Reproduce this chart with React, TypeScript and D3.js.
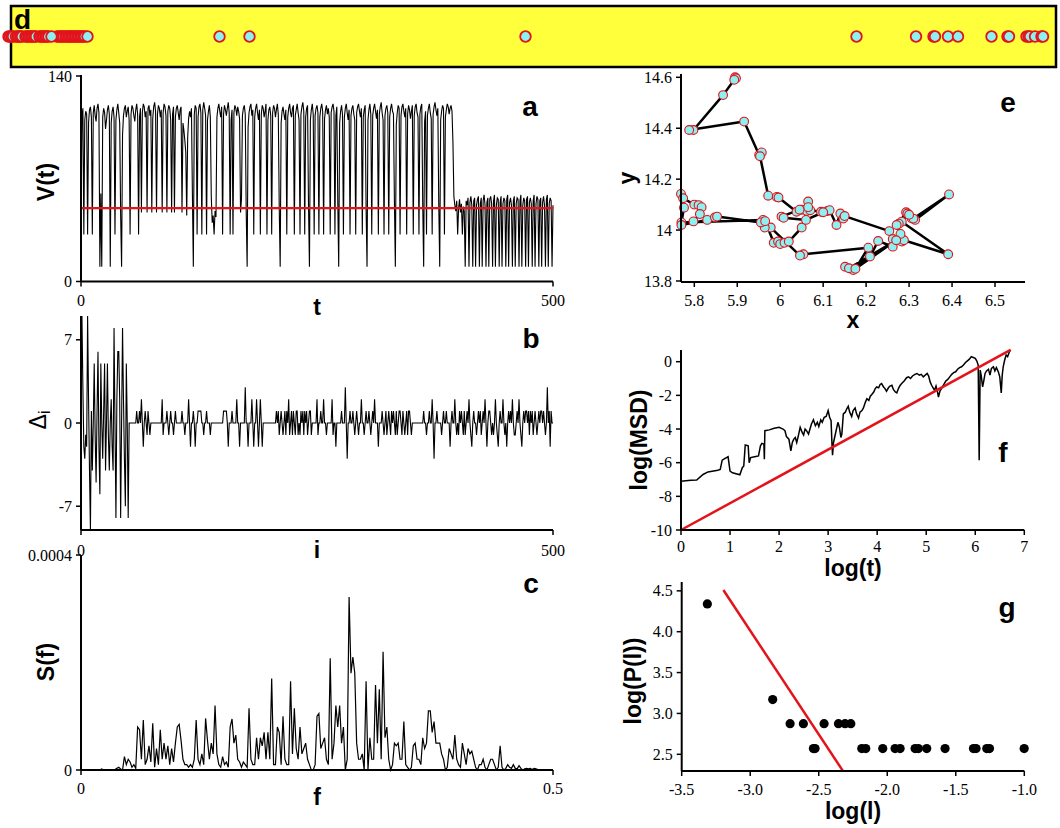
import React from 'react';
import * as d3 from 'd3';

// strip (panel d): positions of the marks along the bar
const stripPos = [8.5, 10, 11.5, 13, 16, 17.5, 19, 20.5, 22, 25.5, 27, 28.5, 30, 31.5, 33, 34.5, 36, 39.5, 41, 42.5, 44, 45.5, 47, 48.5,
  57, 58.5, 60.5, 62, 63.5, 65.5, 67, 68.5, 70, 71.5, 73, 74.5, 76, 77.5, 79, 80.5, 82, 83.5, 85, 51.5, 87.5,
  219.5, 249.5, 525.5, 856.5, 916, 933.5, 935, 948, 958, 991.5, 1007.5, 1009, 1026.5, 1028.5, 1030, 1035, 1041.5, 1043];

// panel a: V(t), t = 0..500
const vSeries = [
  35, 112, 118, 32, 110, 116, 114, 32, 108, 117,
  119, 112, 32, 115, 120, 113, 109, 118, 121, 115,
  10, 60, 10, 112, 118, 115, 104, 110, 117, 120,
  114, 10, 108, 116, 119, 112, 32, 110, 117, 121,
  115, 108, 45, 10, 100, 113, 118, 120, 112, 116,
  119, 110, 32, 114, 120, 118, 113, 109, 117, 121,
  114, 32, 112, 118, 47, 115, 121, 119, 112, 116,
  47, 118, 120, 113, 117, 47, 111, 119, 122, 116,
  47, 114, 120, 118, 112, 117, 47, 115, 121, 119,
  113, 47, 116, 120, 118, 110, 47, 114, 119, 47,
  112, 118, 120, 115, 110, 117, 119, 47, 108, 103,
  96, 88, 45, 98, 111, 116, 112, 118, 60, 10,
  114, 120, 118, 32, 112, 119, 121, 115, 32, 117,
  122, 118, 113, 32, 110, 116, 120, 112, 58, 40,
  45, 32, 48, 44, 112, 118, 121, 116, 112, 119,
  32, 114, 120, 117, 113, 118, 122, 115, 32, 110,
  117, 32, 115, 120, 118, 113, 119, 116, 111, 47,
  56, 113, 118, 120, 114, 48, 10, 105, 115, 119,
  121, 113, 117, 32, 112, 118, 121, 115, 110, 117,
  32, 114, 120, 118, 112, 116, 121, 32, 110, 117,
  119, 113, 32, 115, 120, 118, 112, 117, 121, 114,
  50, 10, 108, 116, 119, 114, 110, 117, 32, 112,
  118, 121, 115, 112, 118, 120, 32, 113, 117, 121,
  115, 110, 32, 114, 119, 122, 116, 32, 112, 118,
  120, 52, 10, 110, 117, 121, 114, 32, 113, 118,
  120, 115, 32, 112, 118, 121, 116, 32, 111, 117,
  120, 114, 118, 112, 32, 115, 119, 121, 116, 32,
  113, 119, 55, 10, 108, 116, 120, 114, 32, 112,
  118, 121, 115, 110, 117, 32, 113, 118, 120, 114,
  110, 32, 115, 119, 121, 116, 112, 118, 32, 112,
  117, 120, 50, 10, 110, 117, 121, 114, 32, 113,
  118, 121, 116, 111, 117, 32, 114, 119, 122, 115,
  110, 32, 113, 118, 120, 115, 32, 112, 118, 121,
  116, 114, 55, 10, 107, 115, 120, 118, 32, 113,
  119, 121, 116, 112, 118, 32, 114, 120, 117, 111,
  116, 120, 32, 113, 119, 121, 115, 112, 32, 114,
  119, 121, 52, 10, 109, 116, 32, 113, 118, 121,
  115, 111, 32, 114, 119, 122, 117, 113, 118, 52,
  10, 110, 116, 120, 118, 32, 112, 117, 121, 119,
  114, 118, 120, 116, 95, 58, 52, 48, 55, 32,
  50, 56, 47, 53, 32, 51, 48, 10, 55, 52,
  57, 10, 54, 58, 52, 10, 55, 57, 10, 52,
  56, 58, 10, 53, 57, 10, 55, 59, 52, 10,
  54, 57, 10, 56, 58, 53, 10, 55, 59, 10,
  52, 57, 56, 10, 54, 58, 10, 53, 57, 55,
  10, 56, 59, 10, 54, 57, 52, 10, 55, 58,
  10, 53, 57, 56, 10, 55, 59, 10, 52, 57,
  55, 10, 56, 58, 10, 54, 57, 53, 10, 55,
  59, 10, 53, 58, 56, 10, 55, 57, 10, 54,
  58, 52, 10, 56, 59, 10, 53, 57, 55, 10,
  52];
const vMean = 50;

// panel b: Delta_i, i = 0..500
const deltaSeries = [
  0, 9, 3, -2, -3, -1, -2, 9, 2, -4,
  -9, 1, -4, 0, 5, -1, -5, 1, 6, -2,
  -6, 5, 0, -3, 1, 5, -4, 0, 5, -1,
  -4, 0, 2, -2, -4, 8, 0, -8, 2, 6,
  6, 2, -8, 0, 8, 2, -3, -7, 5, 0,
  -8, 0, 0, 0, 0, 0, 0, 0, 0, 1,
  0, 0, 1, 0, 2, 0, -2, 0, 1, 0,
  -1, 1, 0, -1, 0, 0, 0, 0, 0, 0,
  0, 0, 0, 0, 0, 0, 2, -1, 0, 0,
  0, 1, 0, -1, 0, 1, 0, 0, -1, 0,
  1, 0, 0, 0, 0, 0, 0, 1, 0, 0,
  -1, 0, 0, 0, 2, 0, -2, 0, 0, 1,
  0, -2, 0, 0, 1, 1, 1, 1, 0, 0,
  -1, 0, 0, 1, 0, 0, 0, -1, 0, 0,
  0, 0, 0, 0, 0, 0, 0, 0, 0, 0,
  0, 1, 1, 1, 1, 0, -2, 0, 0, 0,
  1, 0, 0, 0, 0, 2, 0, 0, -2, 0,
  0, 0, 0, 0, 3, 0, 0, -2, 0, 0,
  0, 2, 0, -2, 0, 0, 2, 0, -2, 0,
  2, 0, -2, 0, 0, 0, 0, 0, 0, 0,
  0, 0, 0, 0, 0, 0, 0, 1, 0, 1,
  -1, 0, 1, 0, -1, 0, 1, -1, 1, 0,
  2, -1, 0, 1, -1, 1, 0, -1, 1, 1,
  -1, 0, -1, 1, 0, 1, -1, 1, 0, 1,
  -1, 0, 1, 1, -1, 0, 0, 0, 0, 0,
  2, -1, 0, 0, 1, 0, 0, 2, 0, 0,
  -1, 0, 0, 0, 0, 0, 2, -1, 0, 0,
  -2, 0, 0, 0, 0, 0, 1, 0, 0, 0,
  3, 0, -3, 0, 0, 1, 0, 0, 1, 0,
  -1, 0, 1, 0, -1, 0, 0, 2, 0, 0,
  -1, 0, 1, 0, 0, 1, 0, -1, 0, 1,
  0, 2, 0, 0, 0, -2, 0, 0, 0, 1,
  0, -1, 0, 1, -1, 0, 1, 0, -1, 1,
  0, 1, 0, -1, 1, -1, 0, 1, 1, 0,
  -1, 1, 0, -1, 0, 1, -1, 1, 1, 0,
  -1, 0, 0, 0, 0, 0, 0, 0, 0, 0,
  0, 0, 0, 1, 0, 0, -1, 0, 0, 1,
  0, 0, 2, 0, -3, 0, 0, 1, 0, 0,
  0, 0, -1, 0, 1, 0, 0, 1, 0, 0,
  0, -2, 0, 1, 0, 0, 2, 0, -1, 0,
  -1, 1, 0, 1, 0, -1, 1, -1, 0, 1,
  0, 2, 0, -1, -2, 0, 1, 0, 0, -1,
  0, 1, 0, 1, -1, 0, 1, 0, 2, 0,
  -2, 0, 1, 1, 0, -1, 0, -1, 0, 2,
  0, -1, -2, 0, 1, 0, 0, 2, 0, -1,
  0, -2, 0, 1, 0, 1, 0, 2, 0, -1,
  -1, 0, 1, 0, 2, 0, -1, -2, 0, 1,
  0, 1, 1, 0, 1, -1, 1, 0, 1, -1,
  0, 1, 0, -1, 0, 1, 0, 1, 1, 0,
  1, 0, -1, 0, 3, 0, 1, -2, 1, 0,
  0];

// panel c: S(f) in units of 1e-5, f = 0..0.5 step 0.002
const specE5 = [
  0, 0, 0, 0, 0, 0, 0, 0, 0, 0,
  0, 0.2, 0, 0, 0, 0, 0, 0, 0.1, 0.3,
  0.5, 0.2, 0, 2.5, 1, 2, 1.5, 0.5, 1, 0.3,
  8, 7.5, 2, 9.3, 1, 2, 4.5, 1.5, 8.7, 0.5,
  4, 1, 7.5, 2, 5, 2, 4.5, 1, 4, 1.5,
  5, 8, 8.5, 5.5, 2, 1, 1, 0.5, 1, 0.5,
  2, 9.3, 2, 1, 3, 1, 9.6, 5.5, 2, 5,
  3, 12, 3, 1, 0.5, 2.5, 1, 1.5, 0.5, 8,
  9.5, 5, 6.5, 2, 1.5, 0.5, 1.5, 1, 0.5, 11.5,
  2, 1, 1, 6, 2, 6, 4.5, 7, 2, 7,
  2, 17, 1, 1, 8, 7, 1, 10, 2, 1,
  1, 16.5, 3, 11.5, 4, 2, 8, 3, 4, 5,
  2, 1, 0, 0, 1, 10, 10.5, 4, 5, 6,
  2, 1, 20.8, 2, 5, 12, 8, 12, 5, 8,
  0, 2, 32.2, 18, 21, 18, 5, 2, 2, 3,
  0, 16.5, 0, 6, 2, 2, 15.8, 5, 15, 2,
  22, 6, 8, 2, 0, 1, 5, 4.5, 5, 2,
  2, 9, 1, 0.5, 0, 0.5, 4.5, 5, 2, 2,
  1, 6, 4, 5, 11, 11, 7, 9, 5, 5,
  5, 3, 2, 0, 0.5, 4, 3, 2, 6.5, 2,
  1, 0.5, 5, 3, 1, 4, 3, 3.5, 2, 0.5,
  0, 1, 1, 2, 0.5, 0, 1, 2, 2, 1,
  0, 0.5, 4.5, 0.5, 0, 0.3, 1, 0.5, 0.3, 1,
  0.3, 0.2, 0.8, 0.3, 0, 0.2, 0.3, 0.2, 0.3, 0.1,
  0.3, 0.2, 0.1, 0, 0, 0, 0, 0, 0, 0,
  0];
const fStep = 0.002;

// panel e: trajectory (x, y)
const trajectory = [
  [5.895, 14.600], [5.897, 14.596], [5.893, 14.590], [5.867, 14.530], [5.798, 14.393], [5.788, 14.393],
  [5.916, 14.426], [5.951, 14.295], [5.957, 14.305], [5.953, 14.290], [5.972, 14.135], [5.992, 14.130], [5.996, 14.128],
  [6.038, 14.072], [6.050, 14.080], [6.065, 14.112], [6.062, 14.075], [6.070, 14.078], [6.095, 14.072], [6.110, 14.075], [6.115, 14.078],
  [6.131, 14.020], [6.140, 14.065], [6.147, 14.045], [6.150, 14.055],
  [6.254, 13.996], [6.262, 13.965], [6.283, 13.955], [6.288, 13.960], [6.391, 13.905],
  [6.283, 14.033], [6.276, 14.025], [6.293, 14.070], [6.296, 14.065], [6.306, 14.046], [6.314, 14.040], [6.393, 14.140], [6.310, 14.045],
  [6.300, 14.060], [6.271, 14.020], [6.280, 13.985], [6.262, 13.935], [6.228, 13.957], [6.209, 13.896],
  [6.170, 13.843], [6.151, 13.856], [6.160, 13.850], [6.270, 13.960], [6.175, 13.848], [6.205, 13.931],
  [6.054, 13.905], [6.046, 13.900], [5.978, 14.010], [5.964, 14.010], [5.960, 14.040], [5.770, 14.030],
  [5.776, 14.088], [5.769, 14.142], [5.774, 14.125], [5.800, 14.100], [5.810, 14.098], [5.817, 14.090], [5.813, 14.063],
  [5.798, 14.034], [5.770, 14.020], [5.830, 14.040], [5.848, 14.050], [5.853, 14.053], [5.955, 14.030], [5.965, 14.035],
  [5.985, 13.950], [5.995, 13.955], [6.000, 13.945], [6.010, 13.950], [6.020, 13.955], [6.050, 14.010], [6.065, 14.090],
  [6.045, 14.080], [6.003, 14.053], [6.008, 14.048], [6.060, 14.040], [6.100, 14.070]];

// panel f: log(MSD) vs log(t)
const msd = [
  [0.00, -7.10], [0.20, -7.05], [0.32, -7.03], [0.45, -6.70], [0.55, -6.55], [0.75, -6.45], [0.80, -6.40], [0.84, -5.85],
  [0.90, -5.75], [0.96, -5.65], [1.00, -6.50], [1.05, -6.60], [1.20, -6.72], [1.25, -6.30], [1.28, -6.20], [1.31, -4.95],
  [1.37, -5.00], [1.39, -6.00], [1.42, -5.70], [1.50, -5.65], [1.58, -5.60], [1.62, -5.00], [1.65, -4.85], [1.69, -4.90],
  [1.70, -5.80], [1.71, -4.10], [1.80, -4.05], [1.90, -3.95], [2.00, -3.90], [2.08, -4.00], [2.12, -4.10], [2.15, -4.45],
  [2.20, -4.60], [2.24, -5.30], [2.27, -4.80], [2.30, -4.60], [2.33, -4.50], [2.36, -4.80], [2.40, -4.30], [2.43, -3.90],
  [2.47, -4.20], [2.50, -4.35], [2.53, -4.00], [2.56, -4.10], [2.60, -4.30], [2.63, -4.00], [2.66, -3.70], [2.70, -3.45],
  [2.74, -3.80], [2.78, -3.60], [2.81, -3.85], [2.85, -3.45], [2.88, -3.60], [2.92, -3.30], [2.96, -3.25], [3.00, -2.90],
  [3.03, -3.30], [3.06, -3.50], [3.08, -5.00], [3.09, -5.55], [3.11, -4.80], [3.14, -4.40], [3.17, -4.00], [3.20, -3.60],
  [3.23, -3.90], [3.26, -4.50], [3.28, -4.30], [3.31, -3.10], [3.35, -3.00], [3.38, -2.80], [3.41, -2.65], [3.44, -3.00],
  [3.48, -3.25], [3.51, -2.90], [3.55, -2.75], [3.58, -3.10], [3.62, -3.35], [3.65, -3.00], [3.69, -2.90], [3.72, -2.75],
  [3.76, -2.40], [3.79, -2.20], [3.83, -2.30], [3.86, -2.05], [3.89, -1.95], [3.93, -1.80], [3.96, -1.60], [3.99, -1.50],
  [4.03, -1.55], [4.06, -1.35], [4.09, -1.30], [4.13, -1.50], [4.16, -1.60], [4.19, -1.75], [4.23, -1.55], [4.26, -1.45],
  [4.30, -1.40], [4.33, -1.65], [4.37, -1.80], [4.40, -1.85], [4.44, -1.55], [4.47, -1.40], [4.50, -1.30], [4.55, -1.15],
  [4.60, -0.95], [4.64, -0.90], [4.68, -1.00], [4.72, -0.85], [4.77, -0.75], [4.81, -0.70], [4.86, -0.80], [4.90, -0.75],
  [4.94, -0.90], [4.98, -0.80], [5.02, -0.70], [5.05, -0.85], [5.08, -1.20], [5.11, -1.40], [5.14, -1.55], [5.17, -1.70],
  [5.20, -1.45], [5.23, -1.80], [5.25, -2.10], [5.28, -1.75], [5.32, -1.55], [5.36, -1.35], [5.40, -1.15], [5.44, -1.05],
  [5.48, -0.90], [5.52, -0.75], [5.56, -0.65], [5.60, -0.60], [5.64, -0.45], [5.68, -0.35], [5.72, -0.30], [5.76, -0.20],
  [5.80, -0.05], [5.84, 0.05], [5.88, 0.15], [5.92, 0.30], [5.96, 0.25], [6.00, 0.20], [6.03, 0.05], [6.06, -0.20],
  [6.08, -5.85], [6.10, -0.50], [6.12, -0.80], [6.15, -1.50], [6.17, -1.20], [6.20, -0.70], [6.23, -0.55], [6.27, -0.45],
  [6.30, -0.80], [6.33, -0.40], [6.37, -0.30], [6.40, -0.55], [6.43, -0.35], [6.47, -0.60], [6.50, -0.90], [6.53, -1.85],
  [6.55, -0.80], [6.57, -0.30], [6.60, 0.10], [6.63, 0.40], [6.66, 0.30], [6.69, 0.55], [6.72, 0.70]];
const msdFit = [[0, -10], [6.72, 0.7]];

// panel g: log(P(l)) vs log(l)
const plDist = [
  [-3.313, 4.34], [-2.836, 3.17], [-2.709, 2.875], [-2.612, 2.875], [-2.461, 2.875], [-2.356, 2.875], [-2.308, 2.875],
  [-2.266, 2.875], [-2.539, 2.57], [-2.527, 2.57], [-2.186, 2.57], [-2.157, 2.57], [-2.033, 2.57], [-1.943, 2.57],
  [-1.906, 2.57], [-1.797, 2.57], [-1.773, 2.57], [-1.712, 2.57], [-1.578, 2.57], [-1.371, 2.57], [-1.352, 2.57],
  [-1.274, 2.57], [-1.254, 2.57], [-1.001, 2.57]];
const plFit = [[-3.196, 4.51], [-2.325, 2.3]];

// tick values
const ticksA = { x: [0, 500], y: [0, 140] };
const ticksB = { x: [0, 500], y: [-7, 0, 7] };
const ticksC = { x: [0, 0.5], y: [0, 0.0004] };
const ticksE = { x: [5.8, 5.9, 6.0, 6.1, 6.2, 6.3, 6.4, 6.5], y: [13.8, 14.0, 14.2, 14.4, 14.6] };
const ticksF = { x: [0, 1, 2, 3, 4, 5, 6, 7], y: [-10, -8, -6, -4, -2, 0] };
const ticksG = { x: [-3.5, -3.0, -2.5, -2.0, -1.5, -1.0], y: [2.5, 3.0, 3.5, 4.0, 4.5] };

const SERIF = '"Liberation Serif", "Times New Roman", Times, serif';
const SANS = '"Liberation Sans", Arial, sans-serif';
const RED = '#e3131b';

const plain = (d: number) => String(+d.toFixed(4));
const oneDec = (d: number) => d.toFixed(1);

function YAxis({ scale, ticks, x, top, bottom, fmt = plain }: any) {
  return (
    <g>
      <line x1={x} x2={x} y1={top} y2={bottom} stroke="#000" strokeWidth={2} />
      {ticks.map((t: number) => (
        <g key={t}>
          <line x1={x - 5} x2={x} y1={scale(t)} y2={scale(t)} stroke="#000" strokeWidth={1.5} />
          <text x={x - 9} y={scale(t)} dy="0.35em" textAnchor="end" style={{ fontFamily: SERIF }} fontSize={16}>{fmt(t)}</text>
        </g>
      ))}
    </g>
  );
}

function XAxis({ scale, ticks, y, left, right, fmt = plain, off = 24 }: any) {
  return (
    <g>
      <line x1={left} x2={right} y1={y} y2={y} stroke="#000" strokeWidth={2} />
      {ticks.map((t: number) => (
        <g key={t}>
          <line x1={scale(t)} x2={scale(t)} y1={y} y2={y + 5} stroke="#000" strokeWidth={1.5} />
          <text x={scale(t)} y={y + off} textAnchor="middle" style={{ fontFamily: SERIF }} fontSize={16}>{fmt(t)}</text>
        </g>
      ))}
    </g>
  );
}

const Title = ({ x, y, children, size = 23, rotate = false }: any) => (
  <text x={x} y={y} textAnchor="middle" style={{ fontFamily: SANS }} fontWeight="bold" fontSize={size}
    transform={rotate ? `rotate(-90, ${x}, ${y})` : undefined} dominantBaseline={rotate ? 'central' : undefined}>
    {children}
  </text>
);

export default function App() {
  // panel d
  const xs = d3.scaleLinear().domain([0, 1060]).range([0, 1060]);

  // panel a
  const xA = d3.scaleLinear().domain([0, 500]).range([81, 553]);
  const yA = d3.scaleLinear().domain([0, 140]).range([281.5, 76]);
  const lineA = d3.line<number>().x((_, i) => xA(i)).y(d => yA(d));

  // panel b
  const xB = d3.scaleLinear().domain([0, 500]).range([81, 553]);
  const yB = d3.scaleLinear().domain([-9, 9]).range([530, 316]);
  const lineB = d3.line<number>().x((_, i) => xB(i)).y(d => yB(d));

  // panel c
  const xC = d3.scaleLinear().domain([0, 0.5]).range([81, 553]);
  const yC = d3.scaleLinear().domain([0, 0.0004]).range([770, 555]);
  const lineC = d3.line<number>().x((_, i) => xC(i * fStep)).y(d => yC(d * 1e-5));

  // panel e
  const xE = d3.scaleLinear().domain([5.8, 6.5]).range([694.3, 995]);
  const yE = d3.scaleLinear().domain([13.8, 14.6]).range([281, 77.3]);
  const lineE = d3.line<number[]>().x(d => xE(d[0])).y(d => yE(d[1]));

  // panel f
  const xF = d3.scaleLinear().domain([0, 7]).range([681, 1024.3]);
  const yF = d3.scaleLinear().domain([-10, 0]).range([530, 361.7]);
  const lineF = d3.line<number[]>().x(d => xF(d[0])).y(d => yF(d[1]));

  // panel g
  const xG = d3.scaleLinear().domain([-3.5, -1.0]).range([681.7, 1024.3]);
  const yG = d3.scaleLinear().domain([2.5, 4.0]).range([754.3, 631.7]);
  const lineG = d3.line<number[]>().x(d => xG(d[0])).y(d => yG(d[1]));

  return (
    <svg width={1060} height={828} style={{ position: 'absolute', left: 0, top: 0, background: '#fff' }}>
      {/* d */}
      <rect x={11} y={6} width={1045} height={61} fill="#ffff3c" stroke="#000" strokeWidth={2.5} />
      <text x={14} y={29} style={{ fontFamily: SANS }} fontWeight="bold" fontSize={28}>d</text>
      {stripPos.map((p, i) => (
        <circle key={i} cx={xs(p)} cy={36.5} r={5.3} fill="#8ef1f1" stroke={RED} strokeWidth={1.8} />
      ))}

      {/* a */}
      <path d={lineA(vSeries) || ''} fill="none" stroke="#000" strokeWidth={1.1} />
      <line x1={xA(0)} x2={xA(500)} y1={yA(vMean)} y2={yA(vMean)} stroke={RED} strokeWidth={2.3} />
      <YAxis scale={yA} ticks={ticksA.y} x={81} top={75} bottom={281.5} />
      <XAxis scale={xA} ticks={ticksA.x} y={281.5} left={81} right={553} />
      <Title x={317} y={315}>t</Title>
      <Title x={46} y={182} rotate>V(t)</Title>
      <Title x={530} y={116} size={28}>a</Title>

      {/* b */}
      <path d={lineB(deltaSeries) || ''} fill="none" stroke="#000" strokeWidth={1.1} />
      <YAxis scale={yB} ticks={ticksB.y} x={81} top={316} bottom={530} />
      <XAxis scale={xB} ticks={ticksB.x} y={530} left={81} right={553} off={26} />
      <Title x={317} y={558}>i</Title>
      <text x={38} y={420} textAnchor="middle" style={{ fontFamily: SANS }} fontSize={23} dominantBaseline="central"
        transform="rotate(-90, 38, 420)">Δ<tspan fontSize={16} dy={6}>i</tspan></text>
      <Title x={531} y={348} size={28}>b</Title>

      {/* c */}
      <path d={lineC(specE5) || ''} fill="none" stroke="#000" strokeWidth={1.2} />
      <YAxis scale={yC} ticks={ticksC.y} x={81} top={555} bottom={770} />
      <XAxis scale={xC} ticks={ticksC.x} y={770} left={81} right={553} />
      <Title x={317} y={805}>f</Title>
      <Title x={46} y={662} rotate>S(f)</Title>
      <Title x={531} y={593} size={28}>c</Title>

      {/* e */}
      <path d={lineE(trajectory) || ''} fill="none" stroke="#000" strokeWidth={2.5} strokeLinejoin="round" />
      {trajectory.map((d, i) => (
        <circle key={i} cx={xE(d[0])} cy={yE(d[1])} r={4.4} fill="#8ef1f1" stroke={RED} strokeWidth={1.1} />
      ))}
      <YAxis scale={yE} ticks={ticksE.y} x={681} top={74} bottom={282} />
      <XAxis scale={xE} ticks={ticksE.x} y={282} left={681} right={1025} />
      <Title x={853} y={328}>x</Title>
      <Title x={627} y={178} rotate>y</Title>
      <Title x={1008} y={112} size={28}>e</Title>

      {/* f */}
      <path d={lineF(msd) || ''} fill="none" stroke="#000" strokeWidth={1.5} />
      <path d={lineF(msdFit) || ''} fill="none" stroke={RED} strokeWidth={2.5} />
      <YAxis scale={yF} ticks={ticksF.y} x={681} top={350} bottom={530} />
      <XAxis scale={xF} ticks={ticksF.x} y={530} left={681} right={1024.3} off={22} />
      <Title x={853} y={576}>log(t)</Title>
      <Title x={639} y={440} rotate>log(MSD)</Title>
      <Title x={1003} y={462} size={28}>f</Title>

      {/* g */}
      <path d={lineG(plFit) || ''} fill="none" stroke={RED} strokeWidth={2.5} />
      {plDist.map((d, i) => (
        <circle key={i} cx={xG(d[0])} cy={yG(d[1])} r={4.6} fill="#000" />
      ))}
      <YAxis scale={yG} ticks={ticksG.y} x={681.7} top={582} bottom={771} fmt={oneDec} />
      <XAxis scale={xG} ticks={ticksG.x} y={771} left={681.7} right={1024.3} fmt={oneDec} />
      <Title x={853} y={819}>log(l)</Title>
      <Title x={633} y={681} rotate>log(P(l))</Title>
      <Title x={1007} y={617} size={28}>g</Title>
    </svg>
  );
}
